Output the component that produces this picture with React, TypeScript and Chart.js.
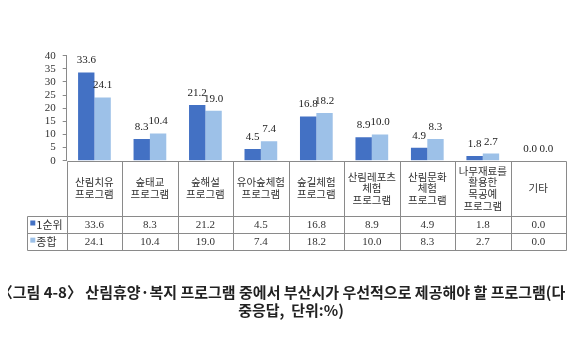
import React, { useEffect, useRef } from "react";
import { Chart, registerables } from "chart.js";

Chart.register(...registerables);

const categories: string[][] = [
  ["산림치유", "프로그램"],
  ["숲태교", "프로그램"],
  ["숲해설", "프로그램"],
  ["유아숲체험", "프로그램"],
  ["숲길체험", "프로그램"],
  ["산림레포츠", "체험", "프로그램"],
  ["산림문화", "체험", "프로그램"],
  ["나무재료를", "활용한", "목공예", "프로그램"],
  ["기타"],
];
const seriesNames = ["1순위", "종합"];
const firstRank = [33.6, 8.3, 21.2, 4.5, 16.8, 8.9, 4.9, 1.8, 0.0];
const overall = [24.1, 10.4, 19.0, 7.4, 18.2, 10.0, 8.3, 2.7, 0.0];
const seriesColors = ["#4371C4", "#9DC1E8"];
const yMin = 0;
const yMax = 40;
const yStep = 5;
const captionLines = [
  "〈그림 4-8〉 산림휴양·복지 프로그램 중에서 부산시가 우선적으로 제공해야 할 프로그램(다",
  "중응답,  단위:%)",
];

const SERIF = "'Liberation Serif', 'DejaVu Serif', 'Noto Sans CJK KR', serif";
const SANS = "'Noto Sans CJK KR', 'Noto Sans', sans-serif";

export default function App() {
  const ref = useRef<HTMLCanvasElement | null>(null);

  useEffect(() => {
    if (!ref.current) return;
    const seriesData = [firstRank, overall];

    const extras = {
      id: "extras",
      afterDraw(chart: any) {
        const ctx = chart.ctx as CanvasRenderingContext2D;
        const area = chart.chartArea;
        const xScale = chart.scales.x;
        const n = categories.length;
        const colW = (area.right - area.left) / n;
        const tableTop = area.bottom;
        const headBottom = tableTop + 55;
        const row1Bottom = headBottom + 17.6;
        const row2Bottom = row1Bottom + 16.7;
        const legendLeft = 19.3;

        ctx.save();
        // data labels
        ctx.fillStyle = "#222";
        ctx.font = "11px " + SERIF;
        ctx.textAlign = "center";
        ctx.textBaseline = "middle";
        chart.data.datasets.forEach((ds: any, di: number) => {
          const meta = chart.getDatasetMeta(di);
          meta.data.forEach((bar: any, i: number) => {
            const v = ds.data[i];
            ctx.fillText(v.toFixed(1), bar.x, bar.y - 12);
          });
        });

        // table lines
        ctx.strokeStyle = "#8a8a8a";
        ctx.lineWidth = 1;
        const L = Math.round(area.left) + 0.5;
        const R = Math.round(area.right) + 0.5;
        const hb = Math.round(headBottom) + 0.5;
        const r1 = Math.round(row1Bottom) + 0.5;
        const r2 = Math.round(row2Bottom) + 0.5;
        const tt = Math.round(tableTop) + 0.5;
        const ll = Math.round(legendLeft) + 0.5;
        ctx.beginPath();
        ctx.moveTo(L, tt);
        ctx.lineTo(R, tt);
        ctx.moveTo(ll, hb);
        ctx.lineTo(R, hb);
        ctx.moveTo(ll, r1);
        ctx.lineTo(R, r1);
        ctx.moveTo(ll, r2);
        ctx.lineTo(R, r2);
        ctx.moveTo(ll, hb);
        ctx.lineTo(ll, r2);
        for (let i = 0; i <= n; i++) {
          const x = Math.round(area.left + i * colW) + 0.5;
          ctx.moveTo(x, tt);
          ctx.lineTo(x, r2);
        }
        ctx.stroke();

        // header text
        ctx.fillStyle = "#333";
        ctx.font = "10.5px " + SANS;
        const lh = 11.6;
        const hc = (tableTop + headBottom) / 2;
        categories.forEach((lines, i) => {
          const cx = xScale.getPixelForValue(i);
          const y0 = hc - ((lines.length - 1) * lh) / 2;
          lines.forEach((t, k) => ctx.fillText(t, cx, y0 + k * lh));
        });

        // values
        const rows = [(headBottom + row1Bottom) / 2, (row1Bottom + row2Bottom) / 2];
        seriesData.forEach((arr, si) => {
          ctx.textAlign = "center";
          ctx.fillStyle = "#333";
          ctx.font = "11px " + SERIF;
          arr.forEach((v, i) => {
            ctx.fillText(v.toFixed(1), xScale.getPixelForValue(i), rows[si] + 0.5);
          });
          // legend key
          ctx.fillStyle = seriesColors[si];
          ctx.fillRect(legendLeft + 3, rows[si] - 4, 5, 5);
          ctx.fillStyle = "#333";
          ctx.textAlign = "left";
          ctx.font = "11px " + SANS;
          ctx.fillText(seriesNames[si], legendLeft + 9, rows[si] + 0.5);
        });

        // caption
        ctx.fillStyle = "#222";
        ctx.font = "bold 15px " + SANS;
        ctx.textAlign = "center";
        const W = chart.width;
        ctx.fillText(captionLines[0], W / 2 + 1 - 9.5, 284);
        ctx.fillText(captionLines[1], W / 2 + 1, 302);
        ctx.restore();
      },
    };

    const chart = new Chart(ref.current, {
      type: "bar",
      data: {
        labels: categories.map((c) => c.join(" ")),
        datasets: seriesNames.map((name, i) => ({
          label: name,
          data: seriesData[i],
          backgroundColor: seriesColors[i],
          borderWidth: 0,
          categoryPercentage: 0.59,
          barPercentage: 1,
        })),
      },
      options: {
        animation: false,
        responsive: true,
        maintainAspectRatio: false,
        layout: { padding: { left: 0, right: 6, top: 47.7, bottom: 344 - 152.7 } },
        plugins: {
          legend: { display: false },
          tooltip: { enabled: false },
          title: { display: false },
        },
        scales: {
          x: { display: false, offset: true },
          y: {
            min: yMin,
            max: yMax,
            afterFit: (s: any) => {
              s.width = 58.7;
            },
            ticks: {
              stepSize: yStep,
              autoSkip: false,
              padding: 7,
              color: "#333",
              font: { family: SERIF, size: 11 },
            },
            grid: {
              drawOnChartArea: false,
              drawTicks: true,
              tickLength: 4,
              color: "#8a8a8a",
            },
            border: { display: true, color: "#8a8a8a" },
          },
        },
      },
      plugins: [extras],
    });
    return () => chart.destroy();
  }, []);

  return (
    <div style={{ width: 564, height: 344, position: "relative" }}>
      <canvas ref={ref} />
    </div>
  );
}
